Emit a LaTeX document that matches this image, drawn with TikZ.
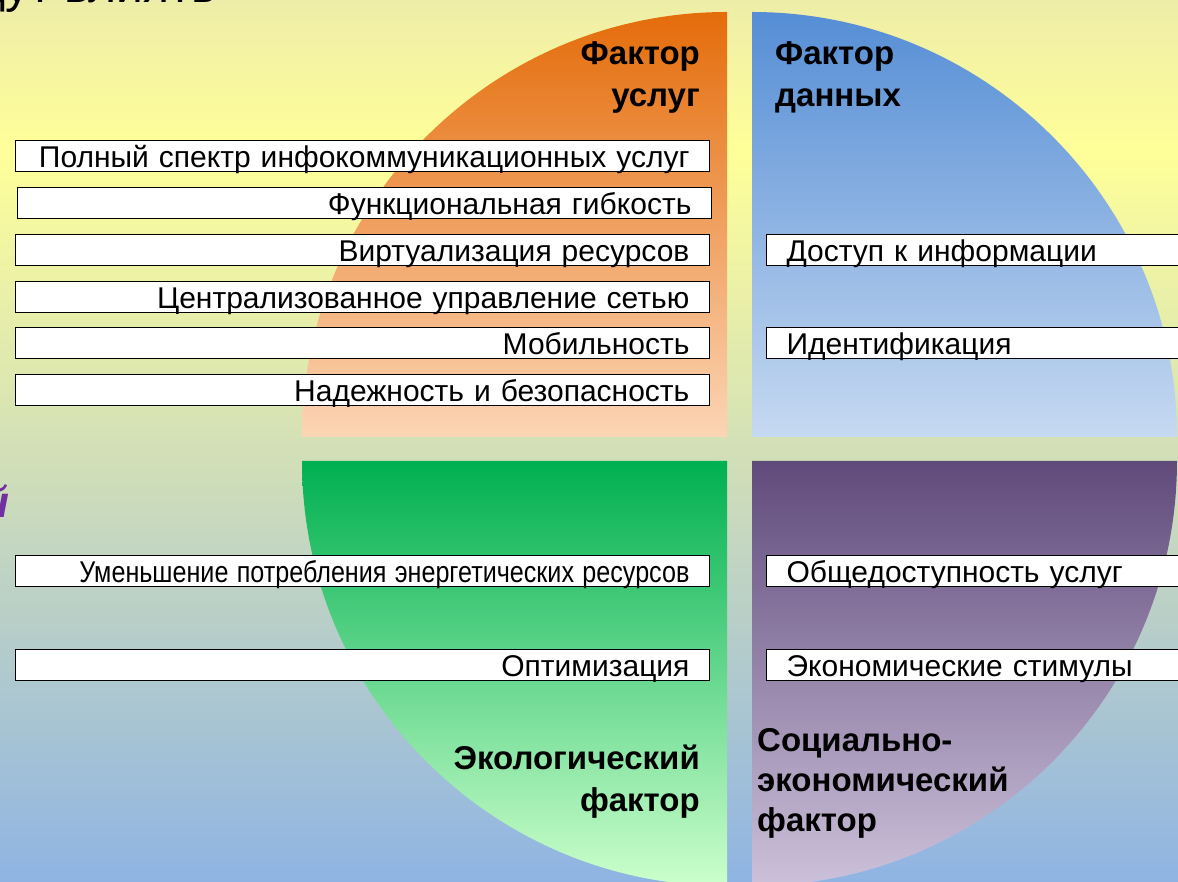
\documentclass[tikz,border=0pt]{standalone}
\usepackage{fontspec}
\setmainfont{Liberation Sans}
\usepackage{graphicx}
\usetikzlibrary{positioning}

\definecolor{bgtop}{RGB}{238,237,168}
\definecolor{bgyel}{RGB}{255,255,153}
\definecolor{bgmid}{RGB}{212,225,182}
\definecolor{bgbot}{RGB}{143,180,227}
\definecolor{orgtop}{RGB}{228,108,10}
\definecolor{orgbot}{RGB}{252,213,181}
\definecolor{blutop}{RGB}{85,142,213}
\definecolor{blubot}{RGB}{198,217,241}
\definecolor{grntop}{RGB}{0,176,80}
\definecolor{grnbot}{RGB}{204,255,204}
\definecolor{prptop}{RGB}{96,74,123}
\definecolor{prpbot}{RGB}{204,193,218}
\definecolor{ttlpurple}{RGB}{112,48,160}

\pgfdeclareverticalshading{bgshade}{100bp}{color(0bp)=(bgbot); color(25bp)=(bgbot);
  color(50bp)=(bgmid); color(66.5bp)=(bgyel); color(75bp)=(bgtop); color(100bp)=(bgtop)}

\begin{document}
\begin{tikzpicture}[x=1pt,y=1pt,
    fbox/.style={draw=black, fill=white, line width=1.2pt, inner xsep=20pt, inner ysep=0pt,
      text height=27pt, text depth=4pt, font=\fontsize{30}{32}\selectfont},
    lbox/.style={fbox, anchor=south east, text width=654pt, align=right},
    rbox/.style={fbox, anchor=south west, text width=390pt, align=left},
    factor/.style={inner sep=0pt, font=\fontsize{33}{42}\selectfont\bfseries}]

      \def \radius{425}
      \useasboundingbox (0,0) rectangle (1178,882);
      \clip (0,0) rectangle (1178,882);

      % background
      \shade[shading=bgshade] (0,0) rectangle (1178,882);

      % slide title, cut off at the top
      \node[anchor=base west, inner sep=0pt, font=\fontsize{48}{48}\selectfont] (ttl) at (-72,879) {будут влиять};
      \node[anchor=base east, inner sep=0pt, text=ttlpurple, font=\fontsize{44}{44}\selectfont\bfseries\itshape] (ttl2) at (10,364) {й};

      % four quarters of the circle
      \coordinate (O1) at (727,445);
      \coordinate (O2) at (752,445);
      \coordinate (O3) at (727,421);
      \coordinate (O4) at (752,421);
      \shade[top color=orgtop, bottom color=orgbot] (O1) -- ++(-\radius,0) arc[start angle=180, end angle=90, radius=\radius] -- cycle;
      \shade[top color=blutop, bottom color=blubot] (O2) -- ++(0,\radius) arc[start angle=90, end angle=0, radius=\radius] -- cycle;
      \shade[top color=grntop, bottom color=grnbot] (O3) -- ++(-\radius,0) arc[start angle=180, end angle=270, radius=\radius] -- cycle;
      \shade[top color=prptop, bottom color=prpbot] (O4) -- ++(\radius,0) arc[start angle=0, end angle=-90, radius=\radius] -- cycle;

      % factor names (base = last line)
      \node[factor, anchor=base east, align=right] (fusl) at (700,775) {Фактор\\услуг};
      \node[factor, anchor=base west, align=left] (fdan) at (775,775) {Фактор\\данных};
      \node[factor, anchor=base east, align=right] (feko) at (700,70) {Экологический\\фактор};
      \node[factor, anchor=base west, align=left, font=\fontsize{33}{40}\selectfont\bfseries] (fsoc) at (757,50) {Социально-\\экономический\\фактор};

      % boxes on the left
      \foreach \i/\x/\y/\t in {1/710/710/{Полный спектр инфокоммуникационных услуг},
                               2/712/663/{Функциональная гибкость},
                               3/710/616/{Виртуализация ресурсов},
                               4/710/569/{Централизованное управление сетью},
                               5/710/523/{Мобильность},
                               6/710/476/{Надежность и безопасность},
                               8/710/201/{Оптимизация}}{
        \node[lbox] (l\i) at (\x,\y) {\t};
      }
      \node[lbox] (l7) at (710,295) {\resizebox{610pt}{\height}{Уменьшение потребления энергетических ресурсов}};

      % boxes on the right
      \foreach \i/\y/\t in {1/616/{Доступ к информации},
                            2/523/{Идентификация},
                            3/295/{Общедоступность услуг},
                            4/201/{Экономические стимулы}}{
        \node[rbox] (r\i) at (766,\y) {\t};
      }

\end{tikzpicture}
\end{document}
